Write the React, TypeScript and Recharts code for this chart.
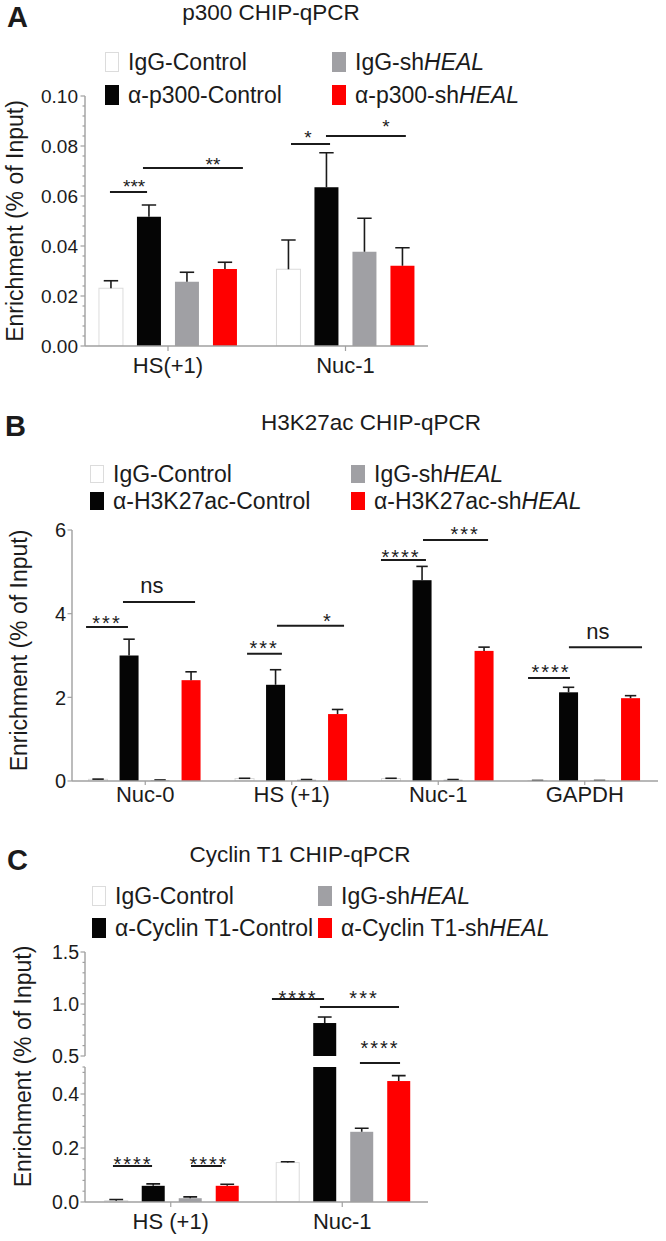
import React from 'react';
import { BarChart, Bar, XAxis, YAxis, ReferenceLine, ReferenceDot, Legend } from 'recharts';

const FONT = '"Liberation Sans", Arial, Helvetica, sans-serif';
const INK = '#1b1b1b';
const AXIS = '#a0a0a0';

// A: p300 ChIP-qPCR
const p300Sites = ['HS(+1)', 'Nuc-1'];
const p300Names = ['IgG-Control', 'α-p300-Control', 'IgG-shHEAL', 'α-p300-shHEAL'];
const p300IgGCtrl = [0.0231, 0.0307];
const p300IgGCtrlErr = [0.003, 0.0117];
const p300AbCtrl = [0.0517, 0.0635];
const p300AbCtrlErr = [0.0047, 0.0138];
const p300IgGSh = [0.0257, 0.0377];
const p300IgGShErr = [0.0038, 0.0134];
const p300AbSh = [0.0308, 0.0321];
const p300AbShErr = [0.0027, 0.0072];
const p300Major = [0, 0.02, 0.04, 0.06, 0.08, 0.1];
const p300Minor = [0.004, 0.008, 0.012, 0.016, 0.024, 0.028, 0.032, 0.036, 0.044, 0.048, 0.052, 0.056, 0.064, 0.068, 0.072, 0.076, 0.084, 0.088, 0.092, 0.096];
const p300Sig = [
  { x1: 0.173, x2: 0.382, y: 0.0616, lx: 0.309, ly: 0.0612, text: '***' },
  { x1: 0.359, x2: 0.922, y: 0.0712, lx: 0.753, ly: 0.07, text: '**' },
  { x1: 1.193, x2: 1.413, y: 0.0808, lx: 1.288, ly: 0.0809, text: '*' },
  { x1: 1.39, x2: 1.84, y: 0.084, lx: 1.728, ly: 0.0853, text: '*' },
];

// B: H3K27ac ChIP-qPCR
const h3Sites = ['Nuc-0', 'HS (+1)', 'Nuc-1', 'GAPDH'];
const h3Names = ['IgG-Control', 'α-H3K27ac-Control', 'IgG-shHEAL', 'α-H3K27ac-shHEAL'];
const h3IgGCtrl = [0.04, 0.06, 0.06, 0.01];
const h3IgGCtrlErr = [0.005, 0.005, 0.005, 0.003];
const h3AbCtrl = [3.0, 2.3, 4.8, 2.12];
const h3AbCtrlErr = [0.39, 0.36, 0.33, 0.12];
const h3IgGSh = [0.02, 0.03, 0.03, 0.01];
const h3IgGShErr = [0.005, 0.005, 0.005, 0.003];
const h3AbSh = [2.41, 1.6, 3.11, 1.98];
const h3AbShErr = [0.2, 0.11, 0.09, 0.06];
const h3Major = [0, 2, 4, 6];
const h3Sig = [
  { x1: 0.096, x2: 0.382, y: 3.68, lx: 0.239, ly: 3.62, text: '***' },
  { x1: 0.348, x2: 0.84, y: 4.28, lx: 0.546, ly: 4.49, text: 'ns' },
  { x1: 1.195, x2: 1.433, y: 3.04, lx: 1.311, ly: 3.02, text: '***' },
  { x1: 1.399, x2: 1.857, y: 3.71, lx: 1.747, ly: 3.65, text: '*' },
  { x1: 2.109, x2: 2.416, y: 5.28, lx: 2.246, ly: 5.18, text: '****' },
  { x1: 2.396, x2: 2.84, y: 5.76, lx: 2.683, ly: 5.73, text: '***' },
  { x1: 3.113, x2: 3.399, y: 2.46, lx: 3.27, ly: 2.45, text: '****' },
  { x1: 3.392, x2: 3.891, y: 3.2, lx: 3.59, ly: 3.39, text: 'ns' },
];

// C: Cyclin T1 ChIP-qPCR (broken axis)
const ccnSites = ['HS (+1)', 'Nuc-1'];
const ccnNames = ['IgG-Control', 'α-Cyclin T1-Control', 'IgG-shHEAL', 'α-Cyclin T1-shHEAL'];
const ccnIgGCtrl = [0.005, 0.146];
const ccnIgGCtrlErr = [0.004, 0.003];
const ccnAbCtrl = [0.06, 0.817];
const ccnAbCtrlErr = [0.007, 0.058];
const ccnIgGSh = [0.014, 0.26];
const ccnIgGShErr = [0.005, 0.013];
const ccnAbSh = [0.06, 0.448];
const ccnAbShErr = [0.006, 0.02];
const ccnBreak = 0.5;
const ccnLowMajor = [0, 0.2, 0.4];
const ccnLowMinor = [0.04, 0.08, 0.12, 0.16, 0.24, 0.28, 0.32, 0.36, 0.44, 0.48, 0.5];
const ccnHighMajor = [0.5, 1.0, 1.5];
const ccnHighMinor = [0.6, 0.7, 0.8, 0.9, 1.1, 1.2, 1.3, 1.4];
const ccnSigLow = [
  { x1: 0.163, x2: 0.391, y: 0.1333, lx: 0.28, ly: 0.113, text: '****' },
  { x1: 0.618, x2: 0.799, y: 0.1333, lx: 0.723, ly: 0.113, text: '****' },
  { x1: 1.603, x2: 1.837, y: 0.515, lx: 1.72, ly: 0.543, text: '****' },
];
const ccnSigHigh = [
  { x1: 1.09, x2: 1.394, y: 1.048, lx: 1.242, ly: 0.995, text: '****' },
  { x1: 1.37, x2: 1.831, y: 0.971, lx: 1.627, ly: 0.995, text: '***' },
];

const STYLE = [
  { fill: '#ffffff', stroke: '#dcdcdc' },
  { fill: '#050505', stroke: undefined },
  { fill: '#a0a0a4', stroke: undefined },
  { fill: '#ff0000', stroke: undefined },
];

type Sig = { x1: number; x2: number; y: number; lx: number; ly: number; text: string };

const makeRows = (
  cats: string[],
  vals: number[][],
  errs: number[][],
  pick: (v: number) => number | null = (v) => v,
) =>
  cats.map((cat, j) => {
    // u = band centre on the hidden numeric axis used for the brackets
    const row: any = { cat, u: j + 0.5 };
    vals.forEach((s, i) => {
      row[`s${i}`] = pick(s[j]);
      row[`r${i}`] = s[j];
      row[`e${i}`] = errs[i][j];
    });
    return row;
  });

const p300Rows = makeRows(p300Sites, [p300IgGCtrl, p300AbCtrl, p300IgGSh, p300AbSh], [p300IgGCtrlErr, p300AbCtrlErr, p300IgGShErr, p300AbShErr]);
const h3Rows = makeRows(h3Sites, [h3IgGCtrl, h3AbCtrl, h3IgGSh, h3AbSh], [h3IgGCtrlErr, h3AbCtrlErr, h3IgGShErr, h3AbShErr]);
const ccnVals = [ccnIgGCtrl, ccnAbCtrl, ccnIgGSh, ccnAbSh];
const ccnErrs = [ccnIgGCtrlErr, ccnAbCtrlErr, ccnIgGShErr, ccnAbShErr];
const ccnLowRows = makeRows(ccnSites, ccnVals, ccnErrs, (v) => Math.min(v, ccnBreak));
const ccnHighRows = makeRows(ccnSites, ccnVals, ccnErrs, (v) => (v > ccnBreak ? v : null));

// bar + upward error whisker, scaled from the bar's own pixel height
const barWithError = (i: number, base: number, lim: number) => (p: any) => {
  const { x, y, width, height, payload } = p;
  const shown = payload ? payload[`s${i}`] : null;
  if (shown == null || !isFinite(height)) return <g />;
  const raw = payload[`r${i}`];
  const err = payload[`e${i}`];
  const span = shown - base;
  const k = span > 0 ? height / span : 0;
  const top = y - err * k;
  const cx = x + width / 2;
  const cap = width * 0.3;
  const st = STYLE[i];
  return (
    <g>
      <rect x={x} y={y} width={width} height={Math.max(height, 0)} fill={st.fill} stroke={st.stroke || 'none'} strokeWidth={1} />
      {raw <= lim && (
        <g stroke={INK} strokeWidth={1.6}>
          <line x1={cx} x2={cx} y1={y} y2={top} />
          <line x1={cx - cap} x2={cx + cap} y1={top} y2={top} />
        </g>
      )}
    </g>
  );
};

const yTick = (major: number[], fmt: (v: number) => string, fs: number, gap: number) => (p: any) => {
  const { x, y, payload } = p;
  const v = payload.value;
  const isMajor = major.some((m) => Math.abs(m - v) < 1e-9);
  return (
    <g>
      <line x1={x - (isMajor ? 4.5 : 2.5)} x2={x} y1={y} y2={y} stroke={AXIS} strokeWidth={1.2} />
      {isMajor && (
        <text x={x - gap} y={y} dy={fs * 0.36} textAnchor="end" fontSize={fs} fontFamily={FONT} fill={INK}>
          {fmt(v)}
        </text>
      )}
    </g>
  );
};

const yLabel = (bx: number, dy: number) => (p: any) => {
  const vb = p.viewBox || { y: 0, height: 0 };
  const cy = vb.y + vb.height / 2 + dy;
  return (
    <text x={bx} y={cy} transform={`rotate(-90 ${bx} ${cy})`} textAnchor="middle" fontSize={23} fontFamily={FONT} fill={INK}>
      Enrichment (% of Input)
    </text>
  );
};

const fmtName = (name: string) => {
  const i = name.indexOf('HEAL');
  if (i < 0) return name;
  return (
    <>
      {name.slice(0, i)}
      <i>HEAL</i>
      {name.slice(i + 4)}
    </>
  );
};

type LegendCfg = { left: number; top: number; colGap: number; rowGap: number; boxH: number };

const legendContent = (cfg: LegendCfg, names: string[]) => (props: any) => {
  const items = props.payload || [];
  return (
    <div style={{ position: 'relative', fontFamily: FONT, fontSize: 23, color: INK }}>
      {items.map((it: any) => {
        const idx = names.indexOf(it.value);
        if (idx < 0) return null;
        const st = STYLE[idx];
        return (
          <div
            key={it.value}
            style={{
              position: 'absolute',
              left: Math.floor(idx / 2) * cfg.colGap,
              top: (idx % 2) * cfg.rowGap,
              display: 'flex',
              alignItems: 'center',
              height: cfg.boxH,
              lineHeight: `${cfg.boxH}px`,
              whiteSpace: 'nowrap',
            }}
          >
            <span
              style={{
                display: 'inline-block',
                width: 14,
                height: cfg.boxH,
                background: st.fill,
                boxSizing: 'border-box',
                border: st.stroke ? `1px solid ${st.stroke}` : 'none',
                marginRight: 9,
              }}
            />
            <span>{fmtName(it.value)}</span>
          </div>
        );
      })}
    </div>
  );
};

type ChartCfg = {
  height: number;
  margin: { top: number; right: number; bottom: number; left: number };
  yWidth: number;
  domain: [number, number];
  major: number[];
  minor: number[];
  fmt: (v: number) => string;
  yFont: number;
  yGap: number;
  rows: any[];
  names: string[];
  catGap: string;
  barGap: number;
  pad: { left: number; right: number };
  nCats: number;
  showX: boolean;
  xTickSize: number;
  xTickMargin: number;
  sig: Sig[];
  starFont: number;
  starSpacing: number;
  base: number;
  lim: number;
  label?: { bx: number; dy: number };
  legend?: LegendCfg;
};

const renderChart = (c: ChartCfg) => (
  <BarChart width={666} height={c.height} data={c.rows} margin={c.margin} barCategoryGap={c.catGap} barGap={c.barGap}>
    <XAxis
      xAxisId="cat"
      dataKey="cat"
      hide={!c.showX}
      padding={c.pad}
      interval={0}
      tickSize={c.xTickSize}
      tickMargin={c.xTickMargin}
      tick={{ fill: INK, fontSize: 22, fontFamily: FONT }}
      axisLine={{ stroke: AXIS, strokeWidth: 1.4 }}
      tickLine={{ stroke: AXIS, strokeWidth: 1.2 }}
    />
    <XAxis xAxisId="u" dataKey="u" type="number" domain={[0, c.nCats]} padding={c.pad} hide allowDataOverflow />
    <YAxis
      width={c.yWidth}
      domain={c.domain}
      allowDataOverflow
      ticks={[...c.major, ...c.minor].sort((a, b) => a - b)}
      interval={0}
      tickSize={0}
      tickMargin={0}
      tickLine={false}
      axisLine={{ stroke: AXIS, strokeWidth: 1.4 }}
      tick={yTick(c.major, c.fmt, c.yFont, c.yGap)}
      label={c.label ? yLabel(c.label.bx, c.label.dy) : undefined}
    />
    {c.names.map((n, i) => (
      <Bar
        key={n}
        xAxisId="cat"
        dataKey={`s${i}`}
        name={n}
        fill={STYLE[i].fill}
        shape={barWithError(i, c.base, c.lim)}
        isAnimationActive={false}
      />
    ))}
    {c.sig.map((s, i) => (
      <ReferenceLine
        key={`l${i}`}
        xAxisId="u"
        segment={[{ x: s.x1, y: s.y }, { x: s.x2, y: s.y }]}
        stroke={INK}
        strokeWidth={2}
        ifOverflow="visible"
      />
    ))}
    {c.sig.map((s, i) => (
      <ReferenceDot
        key={`d${i}`}
        xAxisId="u"
        x={s.lx}
        y={s.ly}
        r={0}
        ifOverflow="visible"
        shape={(p: any) => (
          <text
            x={p.cx}
            y={p.cy}
            textAnchor="middle"
            fontFamily={FONT}
            fill={INK}
            fontSize={s.text === 'ns' ? 22 : c.starFont}
            letterSpacing={s.text === 'ns' ? 0 : c.starSpacing}
          >
            {s.text}
          </text>
        )}
      />
    ))}
    {c.legend && (
      <Legend
        layout="vertical"
        align="center"
        verticalAlign="middle"
        wrapperStyle={{ left: c.legend.left, top: c.legend.top, width: 560, height: 60 }}
        content={legendContent(c.legend, c.names)}
      />
    )}
  </BarChart>
);

const Header = (props: { letter: string; lx: number; ltop: number; title: string; cx: number; ttop: number }) => (
  <>
    <div style={{ position: 'absolute', left: props.lx, top: props.ltop, fontSize: 29, fontWeight: 700, lineHeight: 1 }}>
      {props.letter}
    </div>
    <div style={{ position: 'absolute', left: props.cx - 200, width: 400, top: props.ttop, textAlign: 'center', fontSize: 22.5, lineHeight: 1 }}>
      {props.title}
    </div>
  </>
);

export default function App() {
  const f2 = (v: number) => v.toFixed(2);
  const f1 = (v: number) => v.toFixed(1);
  const f0 = (v: number) => String(Math.round(v));
  return (
    <div style={{ position: 'absolute', left: 0, top: 0, width: 666, height: 1241, background: '#fff', fontFamily: FONT, color: INK, overflow: 'hidden' }}>
      <div style={{ position: 'absolute', left: 0, top: 0 }}>
        {renderChart({
          height: 400,
          margin: { top: 96, right: 238, bottom: 24, left: 0 },
          yWidth: 85,
          domain: [0, 0.1],
          major: p300Major,
          minor: p300Minor,
          fmt: f2,
          yFont: 19,
          yGap: 7,
          rows: p300Rows,
          names: p300Names,
          catGap: '11.1%',
          barGap: 14,
          pad: { left: -5.75, right: -6.25 },
          nCats: p300Sites.length,
          showX: true,
          xTickSize: 5,
          xTickMargin: 6,
          sig: p300Sig,
          starFont: 19,
          starSpacing: 0,
          base: 0,
          lim: Infinity,
          label: { bx: 23, dy: 0 },
          legend: { left: 105, top: 52, colGap: 227, rowGap: 33, boxH: 20 },
        })}
      </div>
      <div style={{ position: 'absolute', left: 0, top: 400 }}>
        {renderChart({
          height: 420,
          margin: { top: 130, right: 8, bottom: 9, left: 0 },
          yWidth: 72,
          domain: [0, 6],
          major: h3Major,
          minor: [],
          fmt: f0,
          yFont: 20,
          yGap: 6,
          rows: h3Rows,
          names: h3Names,
          catGap: '11.3%',
          barGap: 12,
          pad: { left: 0, right: 0 },
          nCats: h3Sites.length,
          showX: true,
          xTickSize: 4,
          xTickMargin: 1,
          sig: h3Sig,
          starFont: 20,
          starSpacing: 2,
          base: 0,
          lim: Infinity,
          label: { bx: 27, dy: -5 },
          legend: { left: 90, top: 65, colGap: 261, rowGap: 27, boxH: 18 },
        })}
      </div>
      <div style={{ position: 'absolute', left: 0, top: 830 }}>
        {renderChart({
          height: 411,
          margin: { top: 122, right: 238, bottom: 185, left: 0 },
          yWidth: 85,
          domain: [0.5, 1.5],
          major: ccnHighMajor,
          minor: ccnHighMinor,
          fmt: f1,
          yFont: 19.5,
          yGap: 6,
          rows: ccnHighRows,
          names: ccnNames,
          catGap: '11.5%',
          barGap: 14,
          pad: { left: 0, right: 0 },
          nCats: ccnSites.length,
          showX: false,
          xTickSize: 5,
          xTickMargin: 6,
          sig: ccnSigHigh,
          starFont: 20,
          starSpacing: 2,
          base: ccnBreak,
          lim: Infinity,
        })}
      </div>
      <div style={{ position: 'absolute', left: 0, top: 830 }}>
        {renderChart({
          height: 411,
          margin: { top: 237, right: 238, bottom: 9, left: 0 },
          yWidth: 85,
          domain: [0, ccnBreak],
          major: ccnLowMajor,
          minor: ccnLowMinor,
          fmt: f1,
          yFont: 19.5,
          yGap: 6,
          rows: ccnLowRows,
          names: ccnNames,
          catGap: '11.5%',
          barGap: 14,
          pad: { left: 0, right: 0 },
          nCats: ccnSites.length,
          showX: true,
          xTickSize: 5,
          xTickMargin: 6,
          sig: ccnSigLow,
          starFont: 20,
          starSpacing: 2,
          base: 0,
          lim: ccnBreak,
          label: { bx: 31, dy: -68 },
          legend: { left: 92, top: 56, colGap: 226, rowGap: 32, boxH: 20 },
        })}
      </div>
      <Header letter="A" lx={7} ltop={2.5} title="p300 CHIP-qPCR" cx={271} ttop={2} />
      <Header letter="B" lx={5} ltop={411.5} title="H3K27ac CHIP-qPCR" cx={371} ttop={412} />
      <Header letter="C" lx={7} ltop={845.5} title="Cyclin T1 CHIP-qPCR" cx={300} ttop={844} />
    </div>
  );
}
